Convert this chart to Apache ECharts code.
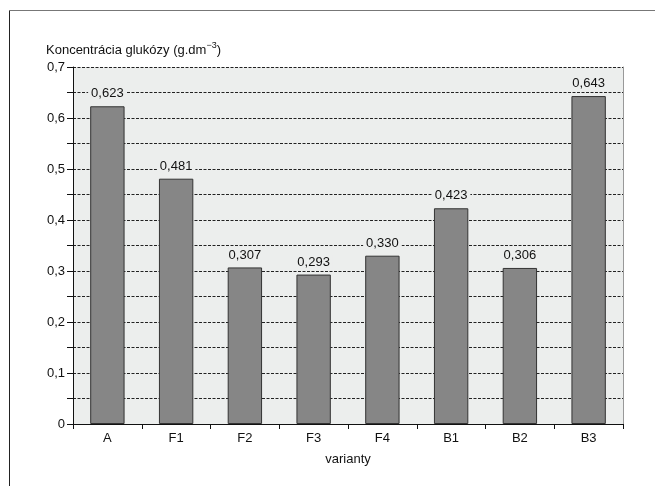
<!DOCTYPE html>
<html>
<head>
<meta charset="utf-8">
<script src="https://cdn.jsdelivr.net/npm/echarts@6/dist/echarts.min.js"></script>
<style>
  html, body { margin: 0; padding: 0; background: #fff; }
  #chart { width: 655px; height: 486px; }
</style>
</head>
<body>
<div id="chart"></div>
<script>
// Glucose concentration per variant (g.dm^-3)
const categories = ['A', 'F1', 'F2', 'F3', 'F4', 'B1', 'B2', 'B3'];
const values = [0.623, 0.481, 0.307, 0.293, 0.330, 0.423, 0.306, 0.643];
const yTicks = [0, 0.1, 0.2, 0.3, 0.4, 0.5, 0.6, 0.7];

const FONT = '"Liberation Sans Narrow", "Arial Narrow", "Liberation Sans", sans-serif';
const PLOT_BG = '#eceeed';

const fmt = v => String(v).replace('.', ',');
const fmt3 = v => v.toFixed(3).replace('.', ',');

const chart = echarts.init(document.getElementById('chart'), null, { renderer: 'canvas' });

chart.setOption({
  backgroundColor: '#ffffff',
  animation: false,
  textStyle: { fontFamily: FONT },
  title: {
    left: 41,
    top: 36,
    text: '{a|Koncentrácia glukózy (g.dm}{s|−3}{a|)}',
    textStyle: {
      fontWeight: 'normal',
      rich: {
        a: { fontFamily: FONT, fontSize: 13, fontWeight: 'normal', color: '#111', verticalAlign: 'bottom' },
        s: { fontFamily: FONT, fontSize: 9, fontWeight: 'normal', color: '#111', padding: [0, 0, 7, 0], verticalAlign: 'bottom' }
      }
    }
  },
  graphic: [
    { type: 'line', shape: { x1: 9.5, y1: 10, x2: 9.5, y2: 486 }, style: { stroke: '#222', lineWidth: 1 } },
    { type: 'line', shape: { x1: 9, y1: 10.5, x2: 655, y2: 10.5 }, style: { stroke: '#777', lineWidth: 1 } }
  ],
  grid: {
    left: 73, right: 32, top: 67, bottom: 62,
    show: true, backgroundColor: PLOT_BG, borderWidth: 0
  },
  xAxis: {
    type: 'category',
    data: categories,
    name: 'varianty',
    nameLocation: 'middle',
    nameGap: 29,
    nameTextStyle: { fontFamily: FONT, fontSize: 13, color: '#111' },
    axisLine: { lineStyle: { color: '#111', width: 1 } },
    axisTick: { show: true, alignWithLabel: false, length: 5, lineStyle: { color: '#111' } },
    axisLabel: { fontFamily: FONT, fontSize: 13, color: '#111', margin: 8 }
  },
  yAxis: [
    {
      type: 'value',
      min: 0, max: 0.7, interval: 0.05,
      axisLine: { show: true, lineStyle: { color: '#111', width: 1 } },
      axisTick: { show: true, length: 6, lineStyle: { color: '#111' } },
      axisLabel: {
        fontFamily: FONT, fontSize: 13, color: '#111', margin: 8,
        formatter: v => {
          const t = yTicks.find(k => Math.abs(k - v) < 1e-6);
          return t === undefined ? '' : fmt(t);
        }
      },
      splitLine: { show: true, lineStyle: { color: '#222', width: 1, type: [3, 1.5] } }
    },
    {
      type: 'value',
      position: 'right',
      min: 0, max: 0.7, interval: 0.05,
      axisLine: { show: true, lineStyle: { color: '#999', width: 1 } },
      axisTick: { show: false },
      axisLabel: { show: false },
      splitLine: { show: false }
    }
  ],
  series: [{
    type: 'bar',
    data: values,
    barWidth: '50%',
    itemStyle: { color: '#868686', borderColor: '#333', borderWidth: 1 },
    label: {
      show: true,
      position: 'top',
      distance: 5,
      formatter: p => fmt3(p.value),
      fontFamily: FONT,
      fontSize: 13,
      color: '#111',
      backgroundColor: PLOT_BG,
      padding: [1, 3, 1, 3]
    }
  }]
});
</script>
</body>
</html>
